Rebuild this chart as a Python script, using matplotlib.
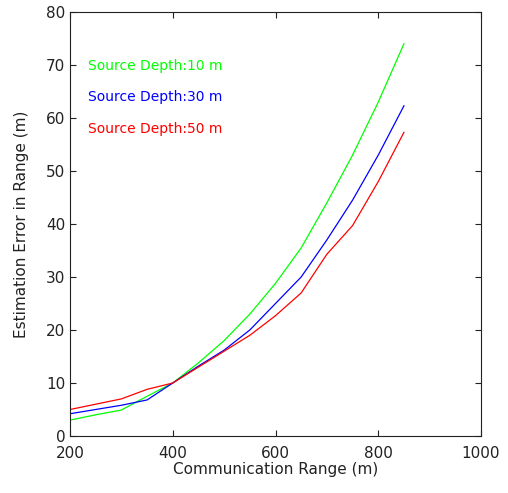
import numpy as np
import matplotlib.pyplot as plt

# communication range (m)
comm_range = [200, 250, 300, 350, 400, 450, 500, 550, 600, 650, 700, 750, 800, 850]

# estimation error (m) for each source depth
err_10m = [3.0, 4.0, 4.9, 7.5, 10.0, 13.8, 18.0, 23.0, 28.8, 35.5, 44.0, 53.0, 63.0, 74.0]
err_30m = [4.2, 5.0, 5.8, 6.8, 10.0, 13.2, 16.2, 20.0, 25.0, 30.0, 37.0, 44.5, 53.0, 62.3]
err_50m = [5.0, 6.0, 7.0, 8.8, 10.0, 13.0, 16.0, 19.0, 22.7, 27.0, 34.3, 39.7, 48.0, 57.3]

labels = ['Source Depth:10 m', 'Source Depth:30 m', 'Source Depth:50 m']
colors = ['#00ff00', '#0000ff', '#ff0000']

plt.rcParams['font.family'] = ['DejaVu Sans']

fig = plt.figure(figsize=(5.08, 4.93), dpi=100)
ax = fig.add_axes([70 / 508, 57 / 493, 411 / 508, 424 / 493])

for ys, c in zip([err_10m, err_30m, err_50m], colors):
    ax.plot(comm_range, ys, color=c, linewidth=0.9)

# text labels instead of legend box
for lab, c, ty in zip(labels, colors, [69.8, 64.0, 58.0]):
    ax.text(235, ty, lab, color=c, fontsize=10, va='center', ha='left')

ax.set_xlim(200, 1000)
ax.set_ylim(0, 80)
ax.set_xticks([200, 400, 600, 800, 1000])
ax.set_yticks(np.arange(0, 81, 10))
ax.tick_params(direction='in', top=True, right=True, labelsize=11, length=4, width=0.8,
               colors='#222222')
ax.tick_params(axis='x', pad=7)
for s in ax.spines.values():
    s.set_linewidth(0.8)
    s.set_color('#222222')

ax.set_xlabel('Communication Range (m)', fontsize=11, labelpad=1, color='#222222')
ax.set_ylabel('Estimation Error in Range (m)', fontsize=11, labelpad=12, color='#222222')

fig.savefig('out.png', dpi=100)
